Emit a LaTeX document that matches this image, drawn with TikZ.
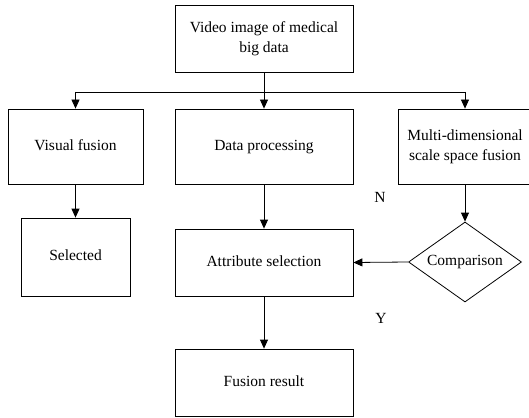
\documentclass[tikz,border=0pt]{standalone}
\usepackage{fontspec}
\setmainfont{Liberation Serif}
\usetikzlibrary{arrows.meta,shapes.geometric}
\begin{document}
\begin{tikzpicture}[x=1pt,y=-1pt,
  txt/.style={font=\fontsize{15.5}{20}\selectfont},
  box/.style={draw,line width=0.8pt,align=center,inner sep=0pt,txt},
  oneline/.style={text height=10.5pt,text depth=3.5pt},
  conn/.style={line width=0.8pt},
  arr/.style={line width=0.8pt,-{Triangle[length=9pt,width=8pt]}}]
\useasboundingbox (0,0) rectangle (529,417);
\node[box,minimum width=178pt,minimum height=67pt] (top) at (264,38.5) {Video image of medical\\big data};
\node[box,oneline,minimum width=135pt,minimum height=75pt] (vf) at (75.5,146.5) {Visual fusion};
\node[box,oneline,minimum width=178pt,minimum height=75pt] (dp) at (264,146.5) {Data processing};
\node[box,minimum width=134pt,minimum height=75pt] (md) at (465,146.5) {Multi-dimensional\\scale space fusion};
\node[box,oneline,minimum width=109pt,minimum height=78pt] (sel) at (75.5,257) {Selected};
\node[box,oneline,minimum width=178pt,minimum height=67pt] (attr) at (264,262.5) {Attribute selection};
\node[box,oneline,shape=diamond,aspect=1.41,minimum width=113pt,minimum height=80pt] (cmp) at (465,262) {Comparison};
\node[box,oneline,minimum width=178pt,minimum height=67pt] (res) at (264,382.5) {Fusion result};
\node[txt] (n) at (380,197) {N};
\node[txt] (y) at (381,318) {Y};
\coordinate (br) at (264,92);
\draw[conn] (top.south) -- (br);
\draw[conn] (vf.north |- br) -- (md.north |- br);
\draw[arr] (vf.north |- br) -- (vf.north);
\draw[arr] (br) -- (dp.north);
\draw[arr] (md.north |- br) -- (md.north);
\draw[arr] (vf.south) -- (sel.north);
\draw[arr] (dp.south) -- (attr.north);
\draw[arr] (md.south) -- (cmp.north);
\draw[arr] (cmp.west) -- (attr.east);
\draw[arr] (attr.south) -- (res.north);
\end{tikzpicture}
\end{document}
